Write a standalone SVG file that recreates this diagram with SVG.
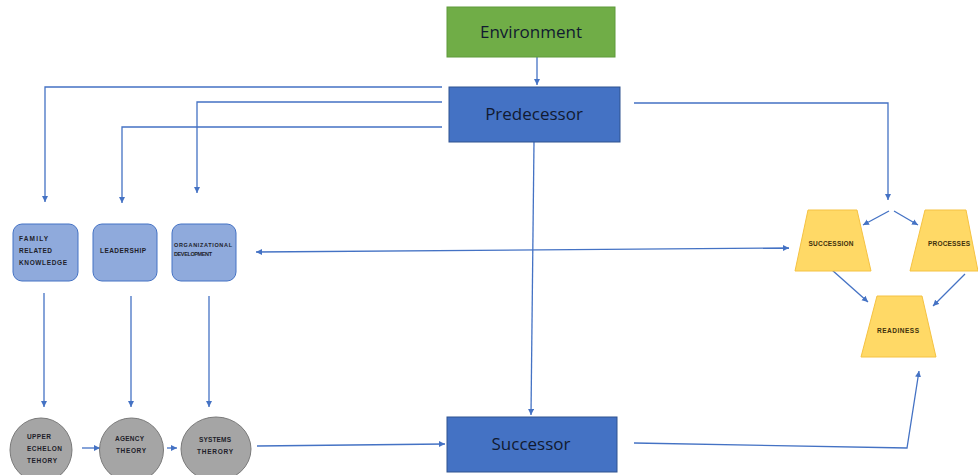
<svg xmlns="http://www.w3.org/2000/svg" width="978" height="475" viewBox="0 0 978 475">
<style>
.c{fill:none;stroke:#4472C4;stroke-width:1.3}
.a{marker-end:url(#ah)}
.big{font-family:"Open Sans","Liberation Sans",sans-serif;font-size:17px;fill:#111a30;text-anchor:middle}
.sm{font-family:"Liberation Sans",Arial,sans-serif;font-size:6.5px;fill:#1e1e2a;font-weight:bold}
.mid{text-anchor:middle}
.box{fill:#8FAADC;stroke:#4472C4;stroke-width:1}
.cir{fill:#A5A5A5;stroke:#7a7a7a;stroke-width:1}
.trap{fill:#FFD966;stroke:#F5C242;stroke-width:1}
.trt{font-family:"Liberation Sans",Arial,sans-serif;font-size:6.5px;fill:#3d300c;text-anchor:middle;font-weight:bold}
</style>
<defs>
<marker id="ah" markerUnits="userSpaceOnUse" markerWidth="7" markerHeight="7" refX="6" refY="3" orient="auto-start-reverse">
<path d="M0,0 L6,3 L0,6 z" fill="#4472C4"/>
</marker>
</defs>
<rect width="978" height="475" fill="#ffffff"/>
<g id="connectors">
<path class="c a" d="M537,57 L537,85"/>
<path class="c a" d="M442,87 L45,87 L45,202"/>
<path class="c a" d="M442,102 L197,102 L197,193"/>
<path class="c a" d="M442,127 L122,127 L122,203"/>
<path class="c a" d="M634,103 L888,103 L888,200"/>
<path class="c a" d="M889,211 L863,225"/>
<path class="c a" d="M894,211 L918,225"/>
<path class="c a" d="M534,142 L531,415"/>
<path class="c a" style="marker-start:url(#ah)" d="M256,252 L789,248"/>
<path class="c a" d="M832,270 L868,302"/>
<path class="c a" d="M965,274 L933,306"/>
<path class="c a" d="M44,293 L44,407"/>
<path class="c a" d="M131,296 L131,407"/>
<path class="c a" d="M209,296 L209,407"/>
<path class="c a" d="M82,448 L100,448"/>
<path class="c a" d="M167,448 L177,448"/>
<path class="c a" d="M257,446 L445,444"/>
<path class="c a" d="M634,443 L907,448 L919,371"/>
</g>
<g id="environment">
<rect x="447" y="7" width="168" height="50" fill="#70AD47" stroke="#5E9A3A" stroke-width="1"/>
<text class="big" x="531" y="38">Environment</text>
</g>
<g id="predecessor">
<rect x="449" y="87" width="171" height="55" fill="#4472C4" stroke="#2F528F" stroke-width="1"/>
<text class="big" x="534" y="120">Predecessor</text>
</g>
<g id="successor">
<rect x="447" y="417" width="170" height="55" fill="#4472C4" stroke="#2F528F" stroke-width="1"/>
<text class="big" x="531" y="450">Successor</text>
</g>
<g id="family">
<rect class="box" x="13" y="224" width="65" height="57" rx="9"/>
<text class="sm" x="19" y="241" textLength="29">FAMILY</text>
<text class="sm" x="19" y="253" textLength="33">RELATED</text>
<text class="sm" x="19" y="265" textLength="48">KNOWLEDGE</text>
</g>
<g id="leadership">
<rect class="box" x="93" y="224" width="64" height="57" rx="9"/>
<text class="sm" x="100" y="253" textLength="46">LEADERSHIP</text>
</g>
<g id="orgdev">
<rect class="box" x="172" y="224" width="64" height="57" rx="9"/>
<text class="sm" x="174" y="247" style="font-size:5.5px" textLength="58">ORGANIZATIONAL</text>
<text class="sm" x="174" y="256" style="font-size:5.5px" textLength="38">DEVELOPMENT</text>
</g>
<g id="upper">
<ellipse class="cir" cx="41" cy="450" rx="31" ry="32"/>
<text class="sm" x="27" y="439" textLength="24">UPPER</text>
<text class="sm" x="27" y="451" textLength="35">ECHELON</text>
<text class="sm" x="27" y="463" textLength="30">TEHORY</text>
</g>
<g id="agency">
<ellipse class="cir" cx="131.5" cy="450" rx="32" ry="32"/>
<text class="sm" x="115" y="441" textLength="29">AGENCY</text>
<text class="sm" x="116" y="453" textLength="30">THEORY</text>
</g>
<g id="systems">
<ellipse class="cir" cx="216" cy="449" rx="35" ry="32"/>
<text class="sm" x="199" y="442" textLength="32">SYSTEMS</text>
<text class="sm" x="197" y="454" textLength="36">THERORY</text>
</g>
<g id="succession">
<polygon class="trap" points="808,210 857,210 871,271 795,271"/>
<text class="trt" x="831" y="246" textLength="45">SUCCESSION</text>
</g>
<g id="processes">
<polygon class="trap" points="925,210 966,210 978,271 910,271"/>
<text class="trt" x="949" y="246" textLength="42">PROCESSES</text>
</g>
<g id="readiness">
<polygon class="trap" points="877,296 922,296 936,357 861,357"/>
<text class="trt" x="898" y="333" textLength="42">READINESS</text>
</g>
</svg>
